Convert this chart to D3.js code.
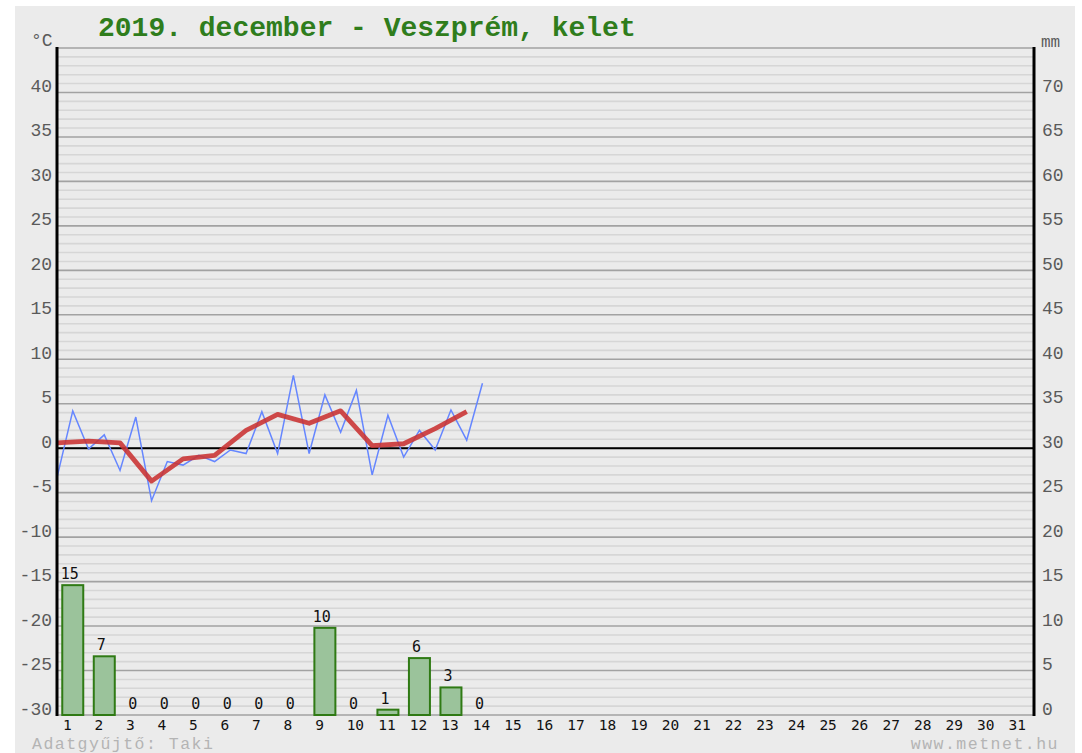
<!DOCTYPE html>
<html>
<head>
<meta charset="utf-8">
<script src="https://cdn.jsdelivr.net/npm/d3@7"></script>
<style>
  html, body { margin: 0; padding: 0; background: #ffffff; }
  svg { display: block; }
</style>
</head>
<body>
<svg id="chart" width="1082" height="753"></svg>
<script>
// Days of the month (x categories)
const days = [1, 2, 3, 4, 5, 6, 7, 8, 9, 10, 11, 12, 13, 14, 15, 16,
              17, 18, 19, 20, 21, 22, 23, 24, 25, 26, 27, 28, 29, 30, 31];

// Twice-daily temperature readings (°C), days 1–14
const tempReadings = [-3.3, 4.2, -0.1, 1.5, -2.5, 3.5, -5.9, -1.5, -1.9, -0.8,
                      -1.5, -0.2, -0.6, 4.1, -0.6, 8.2, -0.6, 6.0, 1.8, 6.5,
                      -3.0, 3.7, -1.0, 2.0, -0.2, 4.3, 0.9, 7.3];

// Daily mean temperature (°C), days 1–14
const tempMean = [0.6, 0.8, 0.6, -3.7, -1.2, -0.8, 2.0, 3.8, 2.8, 4.2, 0.3, 0.5, 2.2, 4.1];

// Daily precipitation (mm), days 1–14
const precip = [14.6, 6.6, 0, 0, 0, 0, 0, 0, 9.8, 0, 0.6, 6.4, 3.1, 0];

// Axis tick labels
const tempTicks = [40, 35, 30, 25, 20, 15, 10, 5, 0, -5, -10, -15, -20, -25, -30];
const precipTicks = [70, 65, 60, 55, 50, 45, 40, 35, 30, 25, 20, 15, 10, 5, 0];

const titleText = "2019. december - Veszprém, kelet";
const footLeft = "Adatgyűjtő: Taki";
const footRight = "www.metnet.hu";

const svg = d3.select("#chart");
const plot = { left: 57, right: 1034, top: 48, bottom: 715 };

const x = d3.scaleBand().domain(days).range([plot.left, plot.right]).padding(0);
const bw = x.bandwidth();
const yT = d3.scaleLinear().domain([-30, 45]).range([plot.bottom, plot.top]);
const yP = d3.scaleLinear().domain([0, 75]).range([plot.bottom, plot.top]);

// panel background
svg.append("rect").attr("x", 15).attr("y", 6).attr("width", 1060).attr("height", 760)
  .attr("fill", "#ebebeb");

// grid: minor every 1 °C, major every 5 °C
const minor = d3.range(-30, 46, 1).filter(v => v % 5 !== 0);
const major = d3.range(-30, 46, 5);
svg.append("g").selectAll("line").data(minor).join("line")
  .attr("x1", plot.left).attr("x2", plot.right)
  .attr("y1", d => yT(d)).attr("y2", d => yT(d))
  .attr("stroke", "#d6d6d6").attr("stroke-width", 1.6);
svg.append("g").selectAll("line").data(major).join("line")
  .attr("x1", plot.left).attr("x2", plot.right)
  .attr("y1", d => yT(d)).attr("y2", d => yT(d))
  .attr("stroke", "#a2a2a2").attr("stroke-width", 1.6);

// zero line
svg.append("line")
  .attr("x1", plot.left).attr("x2", plot.right)
  .attr("y1", yT(0)).attr("y2", yT(0))
  .attr("stroke", "#000").attr("stroke-width", 2);

// precipitation bars
const barW = 21;
const barG = svg.append("g");
barG.selectAll("rect").data(precip).join("rect")
  .attr("x", (d, i) => x(days[i]) + bw / 2 - barW / 2)
  .attr("y", d => yP(d))
  .attr("width", barW)
  .attr("height", d => yP(0) - yP(d))
  .attr("fill", "#9bc39b")
  .attr("stroke", "#2f7a14")
  .attr("stroke-width", 2);

barG.selectAll("text").data(precip).join("text")
  .attr("x", (d, i) => x(days[i]) + bw / 2 - 3)
  .attr("y", d => yP(d) - 6)
  .attr("text-anchor", "middle")
  .attr("font-family", "DejaVu Sans Mono")
  .attr("font-size", 15)
  .attr("fill", "#111")
  .text(d => d3.format(".0f")(d));

// temperature lines
const readX = (d, i) => x(days[Math.floor(i / 2)]) + (i % 2) * bw / 2;
svg.append("path")
  .datum(tempReadings)
  .attr("fill", "none")
  .attr("stroke", "#6586ff")
  .attr("stroke-width", 1.5)
  .attr("stroke-linejoin", "miter")
  .attr("d", d3.line().x(readX).y(d => yT(d)));

const defs = svg.append("defs");
defs.append("filter").attr("id", "soft")
  .append("feGaussianBlur").attr("stdDeviation", 0.6);

svg.append("path")
  .datum(tempMean)
  .attr("fill", "none")
  .attr("stroke", "#c93333")
  .attr("stroke-opacity", 0.88)
  .attr("stroke-width", 4.8)
  .attr("stroke-linejoin", "round")
  .attr("filter", "url(#soft)")
  .attr("d", d3.line().x((d, i) => x(days[i])).y(d => yT(d)));

// vertical axis lines
svg.append("line").attr("x1", plot.left).attr("x2", plot.left)
  .attr("y1", plot.top - 1).attr("y2", plot.bottom + 1)
  .attr("stroke", "#000").attr("stroke-width", 3);
svg.append("line").attr("x1", plot.right).attr("x2", plot.right)
  .attr("y1", plot.top - 1).attr("y2", plot.bottom + 1)
  .attr("stroke", "#000").attr("stroke-width", 3);

// left temperature labels
const tickFont = "'Liberation Mono', 'Courier New', monospace";
svg.append("g").selectAll("text").data(tempTicks).join("text")
  .attr("x", 52).attr("y", d => yT(d) - 0.5)
  .attr("text-anchor", "end")
  .attr("font-family", tickFont).attr("font-size", 18)
  .attr("fill", "#5a5a5a")
  .text(d => d);

// right precipitation labels
svg.append("g").selectAll("text").data(precipTicks).join("text")
  .attr("x", 1042).attr("y", d => yP(d) - 0.5)
  .attr("text-anchor", "start")
  .attr("font-family", tickFont).attr("font-size", 18)
  .attr("fill", "#5a5a5a")
  .text(d => d);

// unit labels
svg.append("text").attr("x", 31).attr("y", 46)
  .attr("font-family", tickFont).attr("font-size", 18).attr("fill", "#5a5a5a")
  .text("°C");
svg.append("text").attr("x", 1041).attr("y", 47)
  .attr("font-family", tickFont).attr("font-size", 16).attr("fill", "#5a5a5a")
  .text("mm");

// day labels
svg.append("g").selectAll("text").data(days).join("text")
  .attr("x", d => x(d) + 6).attr("y", 730)
  .attr("text-anchor", "start")
  .attr("font-family", "DejaVu Sans Mono").attr("font-size", 14.5)
  .attr("fill", "#111")
  .text(d => d);

// title
svg.append("text").attr("x", 98).attr("y", 36)
  .attr("font-family", tickFont).attr("font-size", 28).attr("font-weight", "bold")
  .attr("fill", "#2f7d1c")
  .text(titleText);

// footer
svg.append("text").attr("x", 32).attr("y", 749)
  .attr("font-family", tickFont).attr("font-size", 16.5).attr("fill", "#b4b4b4")
  .attr("letter-spacing", 1.5)
  .text(footLeft);
svg.append("text").attr("x", 1059).attr("y", 749)
  .attr("text-anchor", "end")
  .attr("font-family", tickFont).attr("font-size", 16.5).attr("fill", "#b4b4b4")
  .attr("letter-spacing", 1.5)
  .text(footRight);
</script>
</body>
</html>
